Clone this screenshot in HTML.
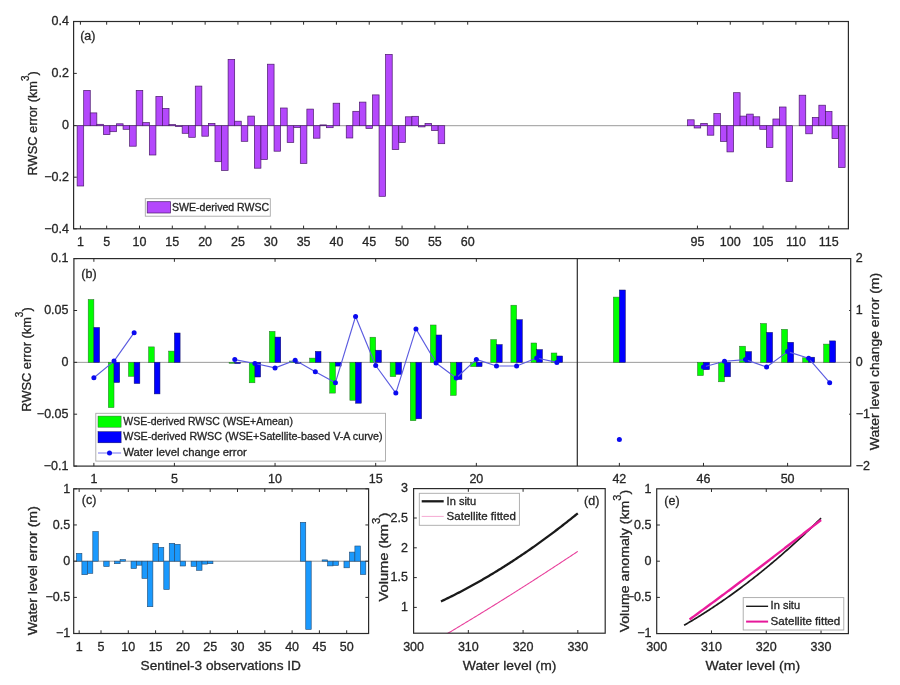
<!DOCTYPE html>
<html><head><meta charset="utf-8"><title>RWSC error figure</title>
<style>html,body{margin:0;padding:0;background:#fff;} svg{display:block;} text{font-family:'Liberation Sans', Arial, sans-serif;stroke:#262626;stroke-width:0.3px;}</style>
</head><body>
<svg width="900" height="685" viewBox="0 0 900 685">
<rect x="0" y="0" width="900" height="685" fill="#ffffff"/>
<line x1="73.60" y1="125.70" x2="848.40" y2="125.70" stroke="#9a9a9a" stroke-width="1.0" />
<rect x="77.13" y="125.70" width="6.57" height="60.30" fill="#b448fc" stroke="#4a1a6a" stroke-width="0.7"/>
<rect x="83.69" y="90.40" width="6.57" height="35.30" fill="#b448fc" stroke="#4a1a6a" stroke-width="0.7"/>
<rect x="90.26" y="112.90" width="6.57" height="12.80" fill="#b448fc" stroke="#4a1a6a" stroke-width="0.7"/>
<rect x="96.82" y="124.30" width="6.57" height="1.40" fill="#b448fc" stroke="#4a1a6a" stroke-width="0.7"/>
<rect x="103.39" y="125.70" width="6.57" height="8.90" fill="#b448fc" stroke="#4a1a6a" stroke-width="0.7"/>
<rect x="109.95" y="125.70" width="6.57" height="6.00" fill="#b448fc" stroke="#4a1a6a" stroke-width="0.7"/>
<rect x="116.52" y="123.80" width="6.57" height="1.90" fill="#b448fc" stroke="#4a1a6a" stroke-width="0.7"/>
<rect x="123.08" y="125.70" width="6.57" height="3.60" fill="#b448fc" stroke="#4a1a6a" stroke-width="0.7"/>
<rect x="129.64" y="125.70" width="6.57" height="20.50" fill="#b448fc" stroke="#4a1a6a" stroke-width="0.7"/>
<rect x="136.21" y="90.40" width="6.57" height="35.30" fill="#b448fc" stroke="#4a1a6a" stroke-width="0.7"/>
<rect x="142.77" y="122.60" width="6.57" height="3.10" fill="#b448fc" stroke="#4a1a6a" stroke-width="0.7"/>
<rect x="149.34" y="125.70" width="6.57" height="29.30" fill="#b448fc" stroke="#4a1a6a" stroke-width="0.7"/>
<rect x="155.90" y="96.40" width="6.57" height="29.30" fill="#b448fc" stroke="#4a1a6a" stroke-width="0.7"/>
<rect x="162.46" y="108.40" width="6.57" height="17.30" fill="#b448fc" stroke="#4a1a6a" stroke-width="0.7"/>
<rect x="169.03" y="124.60" width="6.57" height="1.10" fill="#b448fc" stroke="#4a1a6a" stroke-width="0.7"/>
<rect x="175.59" y="125.70" width="6.57" height="0.90" fill="#b448fc" stroke="#4a1a6a" stroke-width="0.7"/>
<rect x="182.16" y="125.70" width="6.57" height="7.60" fill="#b448fc" stroke="#4a1a6a" stroke-width="0.7"/>
<rect x="188.72" y="125.70" width="6.57" height="11.60" fill="#b448fc" stroke="#4a1a6a" stroke-width="0.7"/>
<rect x="195.28" y="86.10" width="6.57" height="39.60" fill="#b448fc" stroke="#4a1a6a" stroke-width="0.7"/>
<rect x="201.85" y="125.70" width="6.57" height="10.50" fill="#b448fc" stroke="#4a1a6a" stroke-width="0.7"/>
<rect x="208.41" y="123.40" width="6.57" height="2.30" fill="#b448fc" stroke="#4a1a6a" stroke-width="0.7"/>
<rect x="214.98" y="125.70" width="6.57" height="36.00" fill="#b448fc" stroke="#4a1a6a" stroke-width="0.7"/>
<rect x="221.54" y="125.70" width="6.57" height="44.70" fill="#b448fc" stroke="#4a1a6a" stroke-width="0.7"/>
<rect x="228.10" y="59.40" width="6.57" height="66.30" fill="#b448fc" stroke="#4a1a6a" stroke-width="0.7"/>
<rect x="234.67" y="121.20" width="6.57" height="4.50" fill="#b448fc" stroke="#4a1a6a" stroke-width="0.7"/>
<rect x="241.23" y="125.70" width="6.57" height="15.60" fill="#b448fc" stroke="#4a1a6a" stroke-width="0.7"/>
<rect x="247.80" y="116.10" width="6.57" height="9.60" fill="#b448fc" stroke="#4a1a6a" stroke-width="0.7"/>
<rect x="254.36" y="125.70" width="6.57" height="42.50" fill="#b448fc" stroke="#4a1a6a" stroke-width="0.7"/>
<rect x="260.92" y="125.70" width="6.57" height="33.80" fill="#b448fc" stroke="#4a1a6a" stroke-width="0.7"/>
<rect x="267.49" y="64.20" width="6.57" height="61.50" fill="#b448fc" stroke="#4a1a6a" stroke-width="0.7"/>
<rect x="274.05" y="125.70" width="6.57" height="25.50" fill="#b448fc" stroke="#4a1a6a" stroke-width="0.7"/>
<rect x="280.62" y="108.00" width="6.57" height="17.70" fill="#b448fc" stroke="#4a1a6a" stroke-width="0.7"/>
<rect x="287.18" y="125.70" width="6.57" height="16.70" fill="#b448fc" stroke="#4a1a6a" stroke-width="0.7"/>
<rect x="293.74" y="125.70" width="6.57" height="1.80" fill="#b448fc" stroke="#4a1a6a" stroke-width="0.7"/>
<rect x="300.31" y="125.70" width="6.57" height="37.70" fill="#b448fc" stroke="#4a1a6a" stroke-width="0.7"/>
<rect x="306.87" y="109.10" width="6.57" height="16.60" fill="#b448fc" stroke="#4a1a6a" stroke-width="0.7"/>
<rect x="313.43" y="125.70" width="6.57" height="12.50" fill="#b448fc" stroke="#4a1a6a" stroke-width="0.7"/>
<rect x="320.00" y="124.90" width="6.57" height="0.80" fill="#b448fc" stroke="#4a1a6a" stroke-width="0.7"/>
<rect x="326.56" y="125.70" width="6.57" height="2.00" fill="#b448fc" stroke="#4a1a6a" stroke-width="0.7"/>
<rect x="333.13" y="103.20" width="6.57" height="22.50" fill="#b448fc" stroke="#4a1a6a" stroke-width="0.7"/>
<rect x="346.25" y="125.70" width="6.57" height="12.30" fill="#b448fc" stroke="#4a1a6a" stroke-width="0.7"/>
<rect x="352.82" y="111.30" width="6.57" height="14.40" fill="#b448fc" stroke="#4a1a6a" stroke-width="0.7"/>
<rect x="359.38" y="102.10" width="6.57" height="23.60" fill="#b448fc" stroke="#4a1a6a" stroke-width="0.7"/>
<rect x="365.95" y="125.70" width="6.57" height="2.70" fill="#b448fc" stroke="#4a1a6a" stroke-width="0.7"/>
<rect x="372.51" y="94.90" width="6.57" height="30.80" fill="#b448fc" stroke="#4a1a6a" stroke-width="0.7"/>
<rect x="379.07" y="125.70" width="6.57" height="70.60" fill="#b448fc" stroke="#4a1a6a" stroke-width="0.7"/>
<rect x="385.64" y="54.40" width="6.57" height="71.30" fill="#b448fc" stroke="#4a1a6a" stroke-width="0.7"/>
<rect x="392.20" y="125.70" width="6.57" height="23.90" fill="#b448fc" stroke="#4a1a6a" stroke-width="0.7"/>
<rect x="398.77" y="125.70" width="6.57" height="16.80" fill="#b448fc" stroke="#4a1a6a" stroke-width="0.7"/>
<rect x="405.33" y="116.80" width="6.57" height="8.90" fill="#b448fc" stroke="#4a1a6a" stroke-width="0.7"/>
<rect x="411.89" y="116.30" width="6.57" height="9.40" fill="#b448fc" stroke="#4a1a6a" stroke-width="0.7"/>
<rect x="418.46" y="125.70" width="6.57" height="1.20" fill="#b448fc" stroke="#4a1a6a" stroke-width="0.7"/>
<rect x="425.02" y="123.40" width="6.57" height="2.30" fill="#b448fc" stroke="#4a1a6a" stroke-width="0.7"/>
<rect x="431.59" y="125.70" width="6.57" height="4.90" fill="#b448fc" stroke="#4a1a6a" stroke-width="0.7"/>
<rect x="438.15" y="125.70" width="6.57" height="18.00" fill="#b448fc" stroke="#4a1a6a" stroke-width="0.7"/>
<rect x="687.58" y="119.80" width="6.57" height="5.90" fill="#b448fc" stroke="#4a1a6a" stroke-width="0.7"/>
<rect x="694.15" y="125.70" width="6.57" height="2.30" fill="#b448fc" stroke="#4a1a6a" stroke-width="0.7"/>
<rect x="700.71" y="123.40" width="6.57" height="2.30" fill="#b448fc" stroke="#4a1a6a" stroke-width="0.7"/>
<rect x="707.27" y="125.70" width="6.57" height="9.50" fill="#b448fc" stroke="#4a1a6a" stroke-width="0.7"/>
<rect x="713.84" y="113.60" width="6.57" height="12.10" fill="#b448fc" stroke="#4a1a6a" stroke-width="0.7"/>
<rect x="720.40" y="125.70" width="6.57" height="15.70" fill="#b448fc" stroke="#4a1a6a" stroke-width="0.7"/>
<rect x="726.97" y="125.70" width="6.57" height="26.20" fill="#b448fc" stroke="#4a1a6a" stroke-width="0.7"/>
<rect x="733.53" y="92.70" width="6.57" height="33.00" fill="#b448fc" stroke="#4a1a6a" stroke-width="0.7"/>
<rect x="740.10" y="116.10" width="6.57" height="9.60" fill="#b448fc" stroke="#4a1a6a" stroke-width="0.7"/>
<rect x="746.66" y="114.10" width="6.57" height="11.60" fill="#b448fc" stroke="#4a1a6a" stroke-width="0.7"/>
<rect x="753.22" y="116.80" width="6.57" height="8.90" fill="#b448fc" stroke="#4a1a6a" stroke-width="0.7"/>
<rect x="759.79" y="125.70" width="6.57" height="3.60" fill="#b448fc" stroke="#4a1a6a" stroke-width="0.7"/>
<rect x="766.35" y="125.70" width="6.57" height="21.70" fill="#b448fc" stroke="#4a1a6a" stroke-width="0.7"/>
<rect x="772.91" y="119.00" width="6.57" height="6.70" fill="#b448fc" stroke="#4a1a6a" stroke-width="0.7"/>
<rect x="779.48" y="107.00" width="6.57" height="18.70" fill="#b448fc" stroke="#4a1a6a" stroke-width="0.7"/>
<rect x="786.04" y="125.70" width="6.57" height="55.90" fill="#b448fc" stroke="#4a1a6a" stroke-width="0.7"/>
<rect x="799.17" y="95.20" width="6.57" height="30.50" fill="#b448fc" stroke="#4a1a6a" stroke-width="0.7"/>
<rect x="805.74" y="125.70" width="6.57" height="8.10" fill="#b448fc" stroke="#4a1a6a" stroke-width="0.7"/>
<rect x="812.30" y="117.40" width="6.57" height="8.30" fill="#b448fc" stroke="#4a1a6a" stroke-width="0.7"/>
<rect x="818.86" y="105.20" width="6.57" height="20.50" fill="#b448fc" stroke="#4a1a6a" stroke-width="0.7"/>
<rect x="825.43" y="111.50" width="6.57" height="14.20" fill="#b448fc" stroke="#4a1a6a" stroke-width="0.7"/>
<rect x="831.99" y="125.70" width="6.57" height="12.90" fill="#b448fc" stroke="#4a1a6a" stroke-width="0.7"/>
<rect x="838.56" y="125.70" width="6.57" height="41.80" fill="#b448fc" stroke="#4a1a6a" stroke-width="0.7"/>
<rect x="73.60" y="21.50" width="774.80" height="207.30" fill="none" stroke="#2b2b2b" stroke-width="1.2"/>
<line x1="80.41" y1="228.80" x2="80.41" y2="225.60" stroke="#2b2b2b" stroke-width="1.0" />
<line x1="80.41" y1="21.50" x2="80.41" y2="24.70" stroke="#2b2b2b" stroke-width="1.0" />
<line x1="106.67" y1="228.80" x2="106.67" y2="225.60" stroke="#2b2b2b" stroke-width="1.0" />
<line x1="106.67" y1="21.50" x2="106.67" y2="24.70" stroke="#2b2b2b" stroke-width="1.0" />
<line x1="139.49" y1="228.80" x2="139.49" y2="225.60" stroke="#2b2b2b" stroke-width="1.0" />
<line x1="139.49" y1="21.50" x2="139.49" y2="24.70" stroke="#2b2b2b" stroke-width="1.0" />
<line x1="172.31" y1="228.80" x2="172.31" y2="225.60" stroke="#2b2b2b" stroke-width="1.0" />
<line x1="172.31" y1="21.50" x2="172.31" y2="24.70" stroke="#2b2b2b" stroke-width="1.0" />
<line x1="205.13" y1="228.80" x2="205.13" y2="225.60" stroke="#2b2b2b" stroke-width="1.0" />
<line x1="205.13" y1="21.50" x2="205.13" y2="24.70" stroke="#2b2b2b" stroke-width="1.0" />
<line x1="237.95" y1="228.80" x2="237.95" y2="225.60" stroke="#2b2b2b" stroke-width="1.0" />
<line x1="237.95" y1="21.50" x2="237.95" y2="24.70" stroke="#2b2b2b" stroke-width="1.0" />
<line x1="270.77" y1="228.80" x2="270.77" y2="225.60" stroke="#2b2b2b" stroke-width="1.0" />
<line x1="270.77" y1="21.50" x2="270.77" y2="24.70" stroke="#2b2b2b" stroke-width="1.0" />
<line x1="303.59" y1="228.80" x2="303.59" y2="225.60" stroke="#2b2b2b" stroke-width="1.0" />
<line x1="303.59" y1="21.50" x2="303.59" y2="24.70" stroke="#2b2b2b" stroke-width="1.0" />
<line x1="336.41" y1="228.80" x2="336.41" y2="225.60" stroke="#2b2b2b" stroke-width="1.0" />
<line x1="336.41" y1="21.50" x2="336.41" y2="24.70" stroke="#2b2b2b" stroke-width="1.0" />
<line x1="369.23" y1="228.80" x2="369.23" y2="225.60" stroke="#2b2b2b" stroke-width="1.0" />
<line x1="369.23" y1="21.50" x2="369.23" y2="24.70" stroke="#2b2b2b" stroke-width="1.0" />
<line x1="402.05" y1="228.80" x2="402.05" y2="225.60" stroke="#2b2b2b" stroke-width="1.0" />
<line x1="402.05" y1="21.50" x2="402.05" y2="24.70" stroke="#2b2b2b" stroke-width="1.0" />
<line x1="434.87" y1="228.80" x2="434.87" y2="225.60" stroke="#2b2b2b" stroke-width="1.0" />
<line x1="434.87" y1="21.50" x2="434.87" y2="24.70" stroke="#2b2b2b" stroke-width="1.0" />
<line x1="467.69" y1="228.80" x2="467.69" y2="225.60" stroke="#2b2b2b" stroke-width="1.0" />
<line x1="467.69" y1="21.50" x2="467.69" y2="24.70" stroke="#2b2b2b" stroke-width="1.0" />
<line x1="697.43" y1="228.80" x2="697.43" y2="225.60" stroke="#2b2b2b" stroke-width="1.0" />
<line x1="697.43" y1="21.50" x2="697.43" y2="24.70" stroke="#2b2b2b" stroke-width="1.0" />
<line x1="730.25" y1="228.80" x2="730.25" y2="225.60" stroke="#2b2b2b" stroke-width="1.0" />
<line x1="730.25" y1="21.50" x2="730.25" y2="24.70" stroke="#2b2b2b" stroke-width="1.0" />
<line x1="763.07" y1="228.80" x2="763.07" y2="225.60" stroke="#2b2b2b" stroke-width="1.0" />
<line x1="763.07" y1="21.50" x2="763.07" y2="24.70" stroke="#2b2b2b" stroke-width="1.0" />
<line x1="795.89" y1="228.80" x2="795.89" y2="225.60" stroke="#2b2b2b" stroke-width="1.0" />
<line x1="795.89" y1="21.50" x2="795.89" y2="24.70" stroke="#2b2b2b" stroke-width="1.0" />
<line x1="828.71" y1="228.80" x2="828.71" y2="225.60" stroke="#2b2b2b" stroke-width="1.0" />
<line x1="828.71" y1="21.50" x2="828.71" y2="24.70" stroke="#2b2b2b" stroke-width="1.0" />
<line x1="73.60" y1="21.50" x2="76.80" y2="21.50" stroke="#2b2b2b" stroke-width="1.0" />
<line x1="73.60" y1="73.40" x2="76.80" y2="73.40" stroke="#2b2b2b" stroke-width="1.0" />
<line x1="73.60" y1="125.60" x2="76.80" y2="125.60" stroke="#2b2b2b" stroke-width="1.0" />
<line x1="73.60" y1="177.20" x2="76.80" y2="177.20" stroke="#2b2b2b" stroke-width="1.0" />
<line x1="73.60" y1="228.80" x2="76.80" y2="228.80" stroke="#2b2b2b" stroke-width="1.0" />
<text x="68.90" y="25.20" font-size="12.5" text-anchor="end" fill="#262626" >0.4</text>
<text x="68.90" y="77.10" font-size="12.5" text-anchor="end" fill="#262626" >0.2</text>
<text x="68.90" y="129.30" font-size="12.5" text-anchor="end" fill="#262626" >0</text>
<text x="68.90" y="180.90" font-size="12.5" text-anchor="end" fill="#262626" >−0.2</text>
<text x="68.90" y="232.50" font-size="12.5" text-anchor="end" fill="#262626" >−0.4</text>
<text x="80.41" y="245.90" font-size="12.5" text-anchor="middle" fill="#262626" >1</text>
<text x="106.67" y="245.90" font-size="12.5" text-anchor="middle" fill="#262626" >5</text>
<text x="139.49" y="245.90" font-size="12.5" text-anchor="middle" fill="#262626" >10</text>
<text x="172.31" y="245.90" font-size="12.5" text-anchor="middle" fill="#262626" >15</text>
<text x="205.13" y="245.90" font-size="12.5" text-anchor="middle" fill="#262626" >20</text>
<text x="237.95" y="245.90" font-size="12.5" text-anchor="middle" fill="#262626" >25</text>
<text x="270.77" y="245.90" font-size="12.5" text-anchor="middle" fill="#262626" >30</text>
<text x="303.59" y="245.90" font-size="12.5" text-anchor="middle" fill="#262626" >35</text>
<text x="336.41" y="245.90" font-size="12.5" text-anchor="middle" fill="#262626" >40</text>
<text x="369.23" y="245.90" font-size="12.5" text-anchor="middle" fill="#262626" >45</text>
<text x="402.05" y="245.90" font-size="12.5" text-anchor="middle" fill="#262626" >50</text>
<text x="434.87" y="245.90" font-size="12.5" text-anchor="middle" fill="#262626" >55</text>
<text x="467.69" y="245.90" font-size="12.5" text-anchor="middle" fill="#262626" >60</text>
<text x="697.43" y="245.90" font-size="12.5" text-anchor="middle" fill="#262626" >95</text>
<text x="730.25" y="245.90" font-size="12.5" text-anchor="middle" fill="#262626" >100</text>
<text x="763.07" y="245.90" font-size="12.5" text-anchor="middle" fill="#262626" >105</text>
<text x="795.89" y="245.90" font-size="12.5" text-anchor="middle" fill="#262626" >110</text>
<text x="828.71" y="245.90" font-size="12.5" text-anchor="middle" fill="#262626" >115</text>
<text x="80.20" y="39.60" font-size="12.5" text-anchor="start" fill="#262626" >(a)</text>
<text transform="translate(37.40,123.30) rotate(-90)" x="0" y="0" font-size="13.5" text-anchor="middle" fill="#262626" textLength="104.3" lengthAdjust="spacingAndGlyphs">RWSC error (km<tspan font-size="10.5" dy="-8">3</tspan><tspan dy="8">)</tspan></text>
<rect x="145.30" y="198.70" width="125.00" height="17.50" fill="#ffffff" stroke="#a8a8a8" stroke-width="0.9"/>
<rect x="147.20" y="201.70" width="23.30" height="11.30" fill="#b448fc" stroke="#4a1a6a" stroke-width="0.7"/>
<text x="172.00" y="210.80" font-size="10.5" text-anchor="start" fill="#262626" textLength="97.2" lengthAdjust="spacingAndGlyphs">SWE-derived RWSC</text>
<line x1="73.90" y1="362.35" x2="850.70" y2="362.35" stroke="#9a9a9a" stroke-width="1.0" />
<rect x="88.18" y="299.50" width="5.70" height="62.85" fill="#00ff00" stroke="#2f6a2f" stroke-width="0.5"/>
<rect x="93.88" y="327.50" width="5.70" height="34.85" fill="#0000ff" stroke="#10105a" stroke-width="0.5"/>
<rect x="108.31" y="362.35" width="5.70" height="45.25" fill="#00ff00" stroke="#2f6a2f" stroke-width="0.5"/>
<rect x="114.01" y="362.35" width="5.70" height="20.15" fill="#0000ff" stroke="#10105a" stroke-width="0.5"/>
<rect x="128.44" y="362.35" width="5.70" height="13.95" fill="#00ff00" stroke="#2f6a2f" stroke-width="0.5"/>
<rect x="134.14" y="362.35" width="5.70" height="21.15" fill="#0000ff" stroke="#10105a" stroke-width="0.5"/>
<rect x="148.57" y="346.90" width="5.70" height="15.45" fill="#00ff00" stroke="#2f6a2f" stroke-width="0.5"/>
<rect x="154.27" y="362.35" width="5.70" height="31.55" fill="#0000ff" stroke="#10105a" stroke-width="0.5"/>
<rect x="168.70" y="351.10" width="5.70" height="11.25" fill="#00ff00" stroke="#2f6a2f" stroke-width="0.5"/>
<rect x="174.40" y="333.00" width="5.70" height="29.35" fill="#0000ff" stroke="#10105a" stroke-width="0.5"/>
<rect x="229.09" y="362.35" width="5.70" height="0.95" fill="#00ff00" stroke="#2f6a2f" stroke-width="0.5"/>
<rect x="234.79" y="362.35" width="5.70" height="1.25" fill="#0000ff" stroke="#10105a" stroke-width="0.5"/>
<rect x="249.22" y="362.35" width="5.70" height="20.45" fill="#00ff00" stroke="#2f6a2f" stroke-width="0.5"/>
<rect x="254.92" y="362.35" width="5.70" height="14.65" fill="#0000ff" stroke="#10105a" stroke-width="0.5"/>
<rect x="269.35" y="331.40" width="5.70" height="30.95" fill="#00ff00" stroke="#2f6a2f" stroke-width="0.5"/>
<rect x="275.05" y="337.10" width="5.70" height="25.25" fill="#0000ff" stroke="#10105a" stroke-width="0.5"/>
<rect x="289.48" y="361.00" width="5.70" height="1.35" fill="#00ff00" stroke="#2f6a2f" stroke-width="0.5"/>
<rect x="295.18" y="362.35" width="5.70" height="1.15" fill="#0000ff" stroke="#10105a" stroke-width="0.5"/>
<rect x="309.61" y="358.10" width="5.70" height="4.25" fill="#00ff00" stroke="#2f6a2f" stroke-width="0.5"/>
<rect x="315.31" y="351.40" width="5.70" height="10.95" fill="#0000ff" stroke="#10105a" stroke-width="0.5"/>
<rect x="329.74" y="362.35" width="5.70" height="30.75" fill="#00ff00" stroke="#2f6a2f" stroke-width="0.5"/>
<rect x="335.44" y="362.35" width="5.70" height="3.75" fill="#0000ff" stroke="#10105a" stroke-width="0.5"/>
<rect x="349.87" y="362.35" width="5.70" height="37.95" fill="#00ff00" stroke="#2f6a2f" stroke-width="0.5"/>
<rect x="355.57" y="362.35" width="5.70" height="40.85" fill="#0000ff" stroke="#10105a" stroke-width="0.5"/>
<rect x="370.00" y="337.20" width="5.70" height="25.15" fill="#00ff00" stroke="#2f6a2f" stroke-width="0.5"/>
<rect x="375.70" y="350.20" width="5.70" height="12.15" fill="#0000ff" stroke="#10105a" stroke-width="0.5"/>
<rect x="390.13" y="362.35" width="5.70" height="14.25" fill="#00ff00" stroke="#2f6a2f" stroke-width="0.5"/>
<rect x="395.83" y="362.35" width="5.70" height="11.95" fill="#0000ff" stroke="#10105a" stroke-width="0.5"/>
<rect x="410.26" y="362.35" width="5.70" height="58.35" fill="#00ff00" stroke="#2f6a2f" stroke-width="0.5"/>
<rect x="415.96" y="362.35" width="5.70" height="56.45" fill="#0000ff" stroke="#10105a" stroke-width="0.5"/>
<rect x="430.39" y="325.00" width="5.70" height="37.35" fill="#00ff00" stroke="#2f6a2f" stroke-width="0.5"/>
<rect x="436.09" y="335.00" width="5.70" height="27.35" fill="#0000ff" stroke="#10105a" stroke-width="0.5"/>
<rect x="450.52" y="362.35" width="5.70" height="33.05" fill="#00ff00" stroke="#2f6a2f" stroke-width="0.5"/>
<rect x="456.22" y="362.35" width="5.70" height="17.05" fill="#0000ff" stroke="#10105a" stroke-width="0.5"/>
<rect x="470.65" y="362.35" width="5.70" height="4.25" fill="#00ff00" stroke="#2f6a2f" stroke-width="0.5"/>
<rect x="476.35" y="362.35" width="5.70" height="4.25" fill="#0000ff" stroke="#10105a" stroke-width="0.5"/>
<rect x="490.78" y="339.60" width="5.70" height="22.75" fill="#00ff00" stroke="#2f6a2f" stroke-width="0.5"/>
<rect x="496.48" y="344.60" width="5.70" height="17.75" fill="#0000ff" stroke="#10105a" stroke-width="0.5"/>
<rect x="510.91" y="305.20" width="5.70" height="57.15" fill="#00ff00" stroke="#2f6a2f" stroke-width="0.5"/>
<rect x="516.61" y="319.70" width="5.70" height="42.65" fill="#0000ff" stroke="#10105a" stroke-width="0.5"/>
<rect x="531.04" y="343.00" width="5.70" height="19.35" fill="#00ff00" stroke="#2f6a2f" stroke-width="0.5"/>
<rect x="536.74" y="349.60" width="5.70" height="12.75" fill="#0000ff" stroke="#10105a" stroke-width="0.5"/>
<rect x="551.17" y="353.00" width="5.70" height="9.35" fill="#00ff00" stroke="#2f6a2f" stroke-width="0.5"/>
<rect x="556.87" y="356.00" width="5.70" height="6.35" fill="#0000ff" stroke="#10105a" stroke-width="0.5"/>
<rect x="613.36" y="297.10" width="6.00" height="65.25" fill="#00ff00" stroke="#2f6a2f" stroke-width="0.5"/>
<rect x="619.36" y="290.00" width="6.00" height="72.35" fill="#0000ff" stroke="#10105a" stroke-width="0.5"/>
<rect x="697.48" y="362.35" width="6.00" height="13.25" fill="#00ff00" stroke="#2f6a2f" stroke-width="0.5"/>
<rect x="703.48" y="362.35" width="6.00" height="7.35" fill="#0000ff" stroke="#10105a" stroke-width="0.5"/>
<rect x="718.51" y="362.35" width="6.00" height="19.45" fill="#00ff00" stroke="#2f6a2f" stroke-width="0.5"/>
<rect x="724.51" y="362.35" width="6.00" height="14.45" fill="#0000ff" stroke="#10105a" stroke-width="0.5"/>
<rect x="739.54" y="346.20" width="6.00" height="16.15" fill="#00ff00" stroke="#2f6a2f" stroke-width="0.5"/>
<rect x="745.54" y="351.60" width="6.00" height="10.75" fill="#0000ff" stroke="#10105a" stroke-width="0.5"/>
<rect x="760.57" y="323.50" width="6.00" height="38.85" fill="#00ff00" stroke="#2f6a2f" stroke-width="0.5"/>
<rect x="766.57" y="332.40" width="6.00" height="29.95" fill="#0000ff" stroke="#10105a" stroke-width="0.5"/>
<rect x="781.60" y="329.30" width="6.00" height="33.05" fill="#00ff00" stroke="#2f6a2f" stroke-width="0.5"/>
<rect x="787.60" y="342.30" width="6.00" height="20.05" fill="#0000ff" stroke="#10105a" stroke-width="0.5"/>
<rect x="802.63" y="357.80" width="6.00" height="4.55" fill="#00ff00" stroke="#2f6a2f" stroke-width="0.5"/>
<rect x="808.63" y="357.20" width="6.00" height="5.15" fill="#0000ff" stroke="#10105a" stroke-width="0.5"/>
<rect x="823.66" y="344.10" width="6.00" height="18.25" fill="#00ff00" stroke="#2f6a2f" stroke-width="0.5"/>
<rect x="829.66" y="340.90" width="6.00" height="21.45" fill="#0000ff" stroke="#10105a" stroke-width="0.5"/>
<polyline points="93.88,377.80 114.01,361.10 134.14,332.70" fill="none" stroke="#5c5ce0" stroke-width="1.15" stroke-linejoin="round" />
<polyline points="234.79,359.60 254.92,363.50 275.05,367.90 295.18,360.20 315.31,371.70 335.44,382.70 355.57,316.50 375.70,365.50 395.83,393.10 415.96,328.90 436.09,363.00 456.22,378.00 476.35,359.40 496.48,366.00 516.61,366.00 536.74,358.00 556.87,362.40" fill="none" stroke="#5c5ce0" stroke-width="1.15" stroke-linejoin="round" />
<polyline points="703.48,367.00 724.51,361.30 745.54,359.60 766.57,367.00 787.60,351.60 808.63,358.30 829.66,382.70" fill="none" stroke="#5c5ce0" stroke-width="1.15" stroke-linejoin="round" />
<circle cx="93.88" cy="377.80" r="2.5" fill="#0a0af0"/>
<circle cx="114.01" cy="361.10" r="2.5" fill="#0a0af0"/>
<circle cx="134.14" cy="332.70" r="2.5" fill="#0a0af0"/>
<circle cx="234.79" cy="359.60" r="2.5" fill="#0a0af0"/>
<circle cx="254.92" cy="363.50" r="2.5" fill="#0a0af0"/>
<circle cx="275.05" cy="367.90" r="2.5" fill="#0a0af0"/>
<circle cx="295.18" cy="360.20" r="2.5" fill="#0a0af0"/>
<circle cx="315.31" cy="371.70" r="2.5" fill="#0a0af0"/>
<circle cx="335.44" cy="382.70" r="2.5" fill="#0a0af0"/>
<circle cx="355.57" cy="316.50" r="2.5" fill="#0a0af0"/>
<circle cx="375.70" cy="365.50" r="2.5" fill="#0a0af0"/>
<circle cx="395.83" cy="393.10" r="2.5" fill="#0a0af0"/>
<circle cx="415.96" cy="328.90" r="2.5" fill="#0a0af0"/>
<circle cx="436.09" cy="363.00" r="2.5" fill="#0a0af0"/>
<circle cx="456.22" cy="378.00" r="2.5" fill="#0a0af0"/>
<circle cx="476.35" cy="359.40" r="2.5" fill="#0a0af0"/>
<circle cx="496.48" cy="366.00" r="2.5" fill="#0a0af0"/>
<circle cx="516.61" cy="366.00" r="2.5" fill="#0a0af0"/>
<circle cx="536.74" cy="358.00" r="2.5" fill="#0a0af0"/>
<circle cx="556.87" cy="362.40" r="2.5" fill="#0a0af0"/>
<circle cx="703.48" cy="367.00" r="2.5" fill="#0a0af0"/>
<circle cx="724.51" cy="361.30" r="2.5" fill="#0a0af0"/>
<circle cx="745.54" cy="359.60" r="2.5" fill="#0a0af0"/>
<circle cx="766.57" cy="367.00" r="2.5" fill="#0a0af0"/>
<circle cx="787.60" cy="351.60" r="2.5" fill="#0a0af0"/>
<circle cx="808.63" cy="358.30" r="2.5" fill="#0a0af0"/>
<circle cx="829.66" cy="382.70" r="2.5" fill="#0a0af0"/>
<circle cx="619.36" cy="439.40" r="2.5" fill="#0a0af0"/>
<rect x="73.90" y="258.60" width="776.80" height="207.50" fill="none" stroke="#2b2b2b" stroke-width="1.2"/>
<line x1="577.30" y1="258.60" x2="577.30" y2="466.10" stroke="#2b2b2b" stroke-width="1.2" />
<line x1="93.88" y1="466.10" x2="93.88" y2="462.90" stroke="#2b2b2b" stroke-width="1.0" />
<line x1="93.88" y1="258.60" x2="93.88" y2="261.80" stroke="#2b2b2b" stroke-width="1.0" />
<line x1="174.40" y1="466.10" x2="174.40" y2="462.90" stroke="#2b2b2b" stroke-width="1.0" />
<line x1="174.40" y1="258.60" x2="174.40" y2="261.80" stroke="#2b2b2b" stroke-width="1.0" />
<line x1="275.05" y1="466.10" x2="275.05" y2="462.90" stroke="#2b2b2b" stroke-width="1.0" />
<line x1="275.05" y1="258.60" x2="275.05" y2="261.80" stroke="#2b2b2b" stroke-width="1.0" />
<line x1="375.70" y1="466.10" x2="375.70" y2="462.90" stroke="#2b2b2b" stroke-width="1.0" />
<line x1="375.70" y1="258.60" x2="375.70" y2="261.80" stroke="#2b2b2b" stroke-width="1.0" />
<line x1="476.35" y1="466.10" x2="476.35" y2="462.90" stroke="#2b2b2b" stroke-width="1.0" />
<line x1="476.35" y1="258.60" x2="476.35" y2="261.80" stroke="#2b2b2b" stroke-width="1.0" />
<line x1="619.36" y1="466.10" x2="619.36" y2="462.90" stroke="#2b2b2b" stroke-width="1.0" />
<line x1="619.36" y1="258.60" x2="619.36" y2="261.80" stroke="#2b2b2b" stroke-width="1.0" />
<line x1="703.48" y1="466.10" x2="703.48" y2="462.90" stroke="#2b2b2b" stroke-width="1.0" />
<line x1="703.48" y1="258.60" x2="703.48" y2="261.80" stroke="#2b2b2b" stroke-width="1.0" />
<line x1="787.60" y1="466.10" x2="787.60" y2="462.90" stroke="#2b2b2b" stroke-width="1.0" />
<line x1="787.60" y1="258.60" x2="787.60" y2="261.80" stroke="#2b2b2b" stroke-width="1.0" />
<line x1="73.90" y1="258.60" x2="77.10" y2="258.60" stroke="#2b2b2b" stroke-width="1.0" />
<line x1="73.90" y1="310.50" x2="77.10" y2="310.50" stroke="#2b2b2b" stroke-width="1.0" />
<line x1="73.90" y1="362.35" x2="77.10" y2="362.35" stroke="#2b2b2b" stroke-width="1.0" />
<line x1="73.90" y1="414.20" x2="77.10" y2="414.20" stroke="#2b2b2b" stroke-width="1.0" />
<line x1="73.90" y1="466.10" x2="77.10" y2="466.10" stroke="#2b2b2b" stroke-width="1.0" />
<line x1="850.70" y1="310.50" x2="849.10" y2="310.50" stroke="#2b2b2b" stroke-width="1.0" />
<line x1="850.70" y1="362.35" x2="849.10" y2="362.35" stroke="#2b2b2b" stroke-width="1.0" />
<line x1="850.70" y1="414.20" x2="849.10" y2="414.20" stroke="#2b2b2b" stroke-width="1.0" />
<text x="68.50" y="262.30" font-size="12.5" text-anchor="end" fill="#262626" >0.1</text>
<text x="68.50" y="314.20" font-size="12.5" text-anchor="end" fill="#262626" >0.05</text>
<text x="68.50" y="366.05" font-size="12.5" text-anchor="end" fill="#262626" >0</text>
<text x="68.50" y="417.90" font-size="12.5" text-anchor="end" fill="#262626" >−0.05</text>
<text x="68.50" y="469.80" font-size="12.5" text-anchor="end" fill="#262626" >−0.1</text>
<text x="855.80" y="262.30" font-size="12.5" text-anchor="start" fill="#262626" >2</text>
<text x="855.80" y="314.20" font-size="12.5" text-anchor="start" fill="#262626" >1</text>
<text x="855.80" y="366.05" font-size="12.5" text-anchor="start" fill="#262626" >0</text>
<text x="855.80" y="417.90" font-size="12.5" text-anchor="start" fill="#262626" >−1</text>
<text x="855.80" y="469.80" font-size="12.5" text-anchor="start" fill="#262626" >−2</text>
<text x="93.88" y="482.70" font-size="12.5" text-anchor="middle" fill="#262626" >1</text>
<text x="174.40" y="482.70" font-size="12.5" text-anchor="middle" fill="#262626" >5</text>
<text x="275.05" y="482.70" font-size="12.5" text-anchor="middle" fill="#262626" >10</text>
<text x="375.70" y="482.70" font-size="12.5" text-anchor="middle" fill="#262626" >15</text>
<text x="476.35" y="482.70" font-size="12.5" text-anchor="middle" fill="#262626" >20</text>
<text x="619.36" y="482.70" font-size="12.5" text-anchor="middle" fill="#262626" >42</text>
<text x="703.48" y="482.70" font-size="12.5" text-anchor="middle" fill="#262626" >46</text>
<text x="787.60" y="482.70" font-size="12.5" text-anchor="middle" fill="#262626" >50</text>
<text x="81.30" y="277.60" font-size="12.5" text-anchor="start" fill="#262626" >(b)</text>
<text transform="translate(30.50,359.50) rotate(-90)" x="0" y="0" font-size="13.5" text-anchor="middle" fill="#262626" textLength="104.3" lengthAdjust="spacingAndGlyphs">RWSC error (km<tspan font-size="10.5" dy="-8">3</tspan><tspan dy="8">)</tspan></text>
<text transform="translate(879.30,361.50) rotate(-90)" x="0" y="0" font-size="13.5" text-anchor="middle" fill="#262626" textLength="177.3" lengthAdjust="spacingAndGlyphs">Water level change error (m)</text>
<rect x="95.80" y="413.30" width="289.70" height="47.80" fill="#ffffff" stroke="#a8a8a8" stroke-width="0.9"/>
<rect x="98.00" y="416.10" width="23.10" height="11.10" fill="#00ff00" stroke="#2f6a2f" stroke-width="0.5"/>
<rect x="98.00" y="431.70" width="23.10" height="11.10" fill="#0000ff" stroke="#10105a" stroke-width="0.5"/>
<line x1="98.00" y1="453.00" x2="121.10" y2="453.00" stroke="#8c8cf0" stroke-width="1.2" />
<circle cx="109.5" cy="453" r="2.5" fill="#0a0af0"/>
<text x="123.30" y="424.80" font-size="10.5" text-anchor="start" fill="#262626" textLength="169.6" lengthAdjust="spacingAndGlyphs">WSE-derived RWSC (WSE+Amean)</text>
<text x="123.30" y="440.30" font-size="10.5" text-anchor="start" fill="#262626" textLength="259.3" lengthAdjust="spacingAndGlyphs">WSE-derived RWSC (WSE+Satellite-based V-A curve)</text>
<text x="123.30" y="456.30" font-size="10.5" text-anchor="start" fill="#262626" textLength="123.4" lengthAdjust="spacingAndGlyphs">Water level change error</text>
<line x1="73.70" y1="561.20" x2="368.60" y2="561.20" stroke="#9a9a9a" stroke-width="1.0" />
<rect x="76.43" y="553.40" width="5.46" height="7.80" fill="#1a99fd" stroke="#244a70" stroke-width="0.6"/>
<rect x="81.89" y="561.20" width="5.46" height="13.50" fill="#1a99fd" stroke="#244a70" stroke-width="0.6"/>
<rect x="87.35" y="561.20" width="5.46" height="12.10" fill="#1a99fd" stroke="#244a70" stroke-width="0.6"/>
<rect x="92.81" y="531.60" width="5.46" height="29.60" fill="#1a99fd" stroke="#244a70" stroke-width="0.6"/>
<rect x="103.73" y="561.20" width="5.46" height="5.30" fill="#1a99fd" stroke="#244a70" stroke-width="0.6"/>
<rect x="114.65" y="561.20" width="5.46" height="2.50" fill="#1a99fd" stroke="#244a70" stroke-width="0.6"/>
<rect x="120.11" y="559.60" width="5.46" height="1.60" fill="#1a99fd" stroke="#244a70" stroke-width="0.6"/>
<rect x="131.03" y="561.20" width="5.46" height="7.30" fill="#1a99fd" stroke="#244a70" stroke-width="0.6"/>
<rect x="136.49" y="561.20" width="5.46" height="4.00" fill="#1a99fd" stroke="#244a70" stroke-width="0.6"/>
<rect x="141.95" y="561.20" width="5.46" height="17.20" fill="#1a99fd" stroke="#244a70" stroke-width="0.6"/>
<rect x="147.41" y="561.20" width="5.46" height="45.50" fill="#1a99fd" stroke="#244a70" stroke-width="0.6"/>
<rect x="152.87" y="543.30" width="5.46" height="17.90" fill="#1a99fd" stroke="#244a70" stroke-width="0.6"/>
<rect x="158.33" y="547.40" width="5.46" height="13.80" fill="#1a99fd" stroke="#244a70" stroke-width="0.6"/>
<rect x="163.79" y="561.20" width="5.46" height="28.30" fill="#1a99fd" stroke="#244a70" stroke-width="0.6"/>
<rect x="169.25" y="543.30" width="5.46" height="17.90" fill="#1a99fd" stroke="#244a70" stroke-width="0.6"/>
<rect x="174.71" y="544.30" width="5.46" height="16.90" fill="#1a99fd" stroke="#244a70" stroke-width="0.6"/>
<rect x="180.17" y="561.20" width="5.46" height="4.80" fill="#1a99fd" stroke="#244a70" stroke-width="0.6"/>
<rect x="191.09" y="561.20" width="5.46" height="5.10" fill="#1a99fd" stroke="#244a70" stroke-width="0.6"/>
<rect x="196.55" y="561.20" width="5.46" height="9.10" fill="#1a99fd" stroke="#244a70" stroke-width="0.6"/>
<rect x="202.01" y="561.20" width="5.46" height="2.90" fill="#1a99fd" stroke="#244a70" stroke-width="0.6"/>
<rect x="207.47" y="561.20" width="5.46" height="2.50" fill="#1a99fd" stroke="#244a70" stroke-width="0.6"/>
<rect x="300.29" y="522.30" width="5.46" height="38.90" fill="#1a99fd" stroke="#244a70" stroke-width="0.6"/>
<rect x="305.75" y="561.20" width="5.46" height="68.20" fill="#1a99fd" stroke="#244a70" stroke-width="0.6"/>
<rect x="322.13" y="559.90" width="5.46" height="1.30" fill="#1a99fd" stroke="#244a70" stroke-width="0.6"/>
<rect x="327.59" y="561.20" width="5.46" height="4.70" fill="#1a99fd" stroke="#244a70" stroke-width="0.6"/>
<rect x="333.05" y="561.20" width="5.46" height="4.20" fill="#1a99fd" stroke="#244a70" stroke-width="0.6"/>
<rect x="343.97" y="561.20" width="5.46" height="6.60" fill="#1a99fd" stroke="#244a70" stroke-width="0.6"/>
<rect x="349.43" y="552.10" width="5.46" height="9.10" fill="#1a99fd" stroke="#244a70" stroke-width="0.6"/>
<rect x="354.89" y="546.00" width="5.46" height="15.20" fill="#1a99fd" stroke="#244a70" stroke-width="0.6"/>
<rect x="360.35" y="561.20" width="5.46" height="13.30" fill="#1a99fd" stroke="#244a70" stroke-width="0.6"/>
<rect x="73.70" y="488.80" width="294.90" height="144.70" fill="none" stroke="#2b2b2b" stroke-width="1.2"/>
<line x1="79.16" y1="633.50" x2="79.16" y2="630.30" stroke="#2b2b2b" stroke-width="1.0" />
<line x1="79.16" y1="488.80" x2="79.16" y2="492.00" stroke="#2b2b2b" stroke-width="1.0" />
<line x1="101.00" y1="633.50" x2="101.00" y2="630.30" stroke="#2b2b2b" stroke-width="1.0" />
<line x1="101.00" y1="488.80" x2="101.00" y2="492.00" stroke="#2b2b2b" stroke-width="1.0" />
<line x1="128.30" y1="633.50" x2="128.30" y2="630.30" stroke="#2b2b2b" stroke-width="1.0" />
<line x1="128.30" y1="488.80" x2="128.30" y2="492.00" stroke="#2b2b2b" stroke-width="1.0" />
<line x1="155.60" y1="633.50" x2="155.60" y2="630.30" stroke="#2b2b2b" stroke-width="1.0" />
<line x1="155.60" y1="488.80" x2="155.60" y2="492.00" stroke="#2b2b2b" stroke-width="1.0" />
<line x1="182.90" y1="633.50" x2="182.90" y2="630.30" stroke="#2b2b2b" stroke-width="1.0" />
<line x1="182.90" y1="488.80" x2="182.90" y2="492.00" stroke="#2b2b2b" stroke-width="1.0" />
<line x1="210.20" y1="633.50" x2="210.20" y2="630.30" stroke="#2b2b2b" stroke-width="1.0" />
<line x1="210.20" y1="488.80" x2="210.20" y2="492.00" stroke="#2b2b2b" stroke-width="1.0" />
<line x1="237.50" y1="633.50" x2="237.50" y2="630.30" stroke="#2b2b2b" stroke-width="1.0" />
<line x1="237.50" y1="488.80" x2="237.50" y2="492.00" stroke="#2b2b2b" stroke-width="1.0" />
<line x1="264.80" y1="633.50" x2="264.80" y2="630.30" stroke="#2b2b2b" stroke-width="1.0" />
<line x1="264.80" y1="488.80" x2="264.80" y2="492.00" stroke="#2b2b2b" stroke-width="1.0" />
<line x1="292.10" y1="633.50" x2="292.10" y2="630.30" stroke="#2b2b2b" stroke-width="1.0" />
<line x1="292.10" y1="488.80" x2="292.10" y2="492.00" stroke="#2b2b2b" stroke-width="1.0" />
<line x1="319.40" y1="633.50" x2="319.40" y2="630.30" stroke="#2b2b2b" stroke-width="1.0" />
<line x1="319.40" y1="488.80" x2="319.40" y2="492.00" stroke="#2b2b2b" stroke-width="1.0" />
<line x1="346.70" y1="633.50" x2="346.70" y2="630.30" stroke="#2b2b2b" stroke-width="1.0" />
<line x1="346.70" y1="488.80" x2="346.70" y2="492.00" stroke="#2b2b2b" stroke-width="1.0" />
<line x1="73.70" y1="488.80" x2="76.90" y2="488.80" stroke="#2b2b2b" stroke-width="1.0" />
<line x1="368.60" y1="488.80" x2="365.40" y2="488.80" stroke="#2b2b2b" stroke-width="1.0" />
<line x1="73.70" y1="524.95" x2="76.90" y2="524.95" stroke="#2b2b2b" stroke-width="1.0" />
<line x1="368.60" y1="524.95" x2="365.40" y2="524.95" stroke="#2b2b2b" stroke-width="1.0" />
<line x1="73.70" y1="561.20" x2="76.90" y2="561.20" stroke="#2b2b2b" stroke-width="1.0" />
<line x1="368.60" y1="561.20" x2="365.40" y2="561.20" stroke="#2b2b2b" stroke-width="1.0" />
<line x1="73.70" y1="597.40" x2="76.90" y2="597.40" stroke="#2b2b2b" stroke-width="1.0" />
<line x1="368.60" y1="597.40" x2="365.40" y2="597.40" stroke="#2b2b2b" stroke-width="1.0" />
<line x1="73.70" y1="633.50" x2="76.90" y2="633.50" stroke="#2b2b2b" stroke-width="1.0" />
<line x1="368.60" y1="633.50" x2="365.40" y2="633.50" stroke="#2b2b2b" stroke-width="1.0" />
<text x="70.20" y="492.50" font-size="12.5" text-anchor="end" fill="#262626" >1</text>
<text x="70.20" y="528.65" font-size="12.5" text-anchor="end" fill="#262626" >0.5</text>
<text x="70.20" y="564.90" font-size="12.5" text-anchor="end" fill="#262626" >0</text>
<text x="70.20" y="601.10" font-size="12.5" text-anchor="end" fill="#262626" >−0.5</text>
<text x="70.20" y="637.20" font-size="12.5" text-anchor="end" fill="#262626" >−1</text>
<text x="79.16" y="650.80" font-size="12.5" text-anchor="middle" fill="#262626" >1</text>
<text x="101.00" y="650.80" font-size="12.5" text-anchor="middle" fill="#262626" >5</text>
<text x="128.30" y="650.80" font-size="12.5" text-anchor="middle" fill="#262626" >10</text>
<text x="155.60" y="650.80" font-size="12.5" text-anchor="middle" fill="#262626" >15</text>
<text x="182.90" y="650.80" font-size="12.5" text-anchor="middle" fill="#262626" >20</text>
<text x="210.20" y="650.80" font-size="12.5" text-anchor="middle" fill="#262626" >25</text>
<text x="237.50" y="650.80" font-size="12.5" text-anchor="middle" fill="#262626" >30</text>
<text x="264.80" y="650.80" font-size="12.5" text-anchor="middle" fill="#262626" >35</text>
<text x="292.10" y="650.80" font-size="12.5" text-anchor="middle" fill="#262626" >40</text>
<text x="319.40" y="650.80" font-size="12.5" text-anchor="middle" fill="#262626" >45</text>
<text x="346.70" y="650.80" font-size="12.5" text-anchor="middle" fill="#262626" >50</text>
<text x="81.80" y="504.20" font-size="12.5" text-anchor="start" fill="#262626" >(c)</text>
<text transform="translate(36.50,570.70) rotate(-90)" x="0" y="0" font-size="13.5" text-anchor="middle" fill="#262626" textLength="129.1" lengthAdjust="spacingAndGlyphs">Water level error (m)</text>
<text x="220.80" y="669.80" font-size="13.5" text-anchor="middle" fill="#262626" textLength="160.4" lengthAdjust="spacingAndGlyphs">Sentinel-3 observations ID</text>
<clipPath id="cd"><rect x="413.6" y="488.6" width="191.60000000000002" height="144.60000000000002"/></clipPath>
<polyline points="440.97,601.44 442.34,600.79 443.71,600.13 445.08,599.47 446.44,598.81 447.81,598.14 449.18,597.47 450.55,596.79 451.92,596.11 453.29,595.42 454.66,594.72 456.02,594.03 457.39,593.33 458.76,592.62 460.13,591.91 461.50,591.19 462.87,590.47 464.23,589.75 465.60,589.02 466.97,588.28 468.34,587.54 469.71,586.80 471.08,586.05 472.45,585.30 473.81,584.54 475.18,583.78 476.55,583.01 477.92,582.24 479.29,581.46 480.66,580.68 482.03,579.89 483.39,579.10 484.76,578.31 486.13,577.51 487.50,576.70 488.87,575.89 490.24,575.08 491.60,574.26 492.97,573.44 494.34,572.61 495.71,571.78 497.08,570.94 498.45,570.10 499.82,569.25 501.18,568.40 502.55,567.54 503.92,566.68 505.29,565.82 506.66,564.95 508.03,564.07 509.40,563.19 510.76,562.31 512.13,561.42 513.50,560.53 514.87,559.63 516.24,558.73 517.61,557.82 518.97,556.91 520.34,555.99 521.71,555.07 523.08,554.14 524.45,553.21 525.82,552.28 527.19,551.34 528.55,550.39 529.92,549.44 531.29,548.49 532.66,547.53 534.03,546.57 535.40,545.60 536.76,544.63 538.13,543.65 539.50,542.67 540.87,541.68 542.24,540.69 543.61,539.69 544.98,538.69 546.34,537.68 547.71,536.67 549.08,535.66 550.45,534.64 551.82,533.62 553.19,532.59 554.56,531.55 555.92,530.52 557.29,529.47 558.66,528.43 560.03,527.37 561.40,526.32 562.77,525.25 564.13,524.19 565.50,523.12 566.87,522.04 568.24,520.96 569.61,519.88 570.98,518.79 572.35,517.69 573.71,516.59 575.08,515.49 576.45,514.38 577.82,513.27" fill="none" stroke="#1a1a1a" stroke-width="2.3" stroke-linejoin="round" stroke-linecap="butt"/>
<polyline points="440.00,637.97 441.38,637.16 442.76,636.34 444.13,635.52 445.51,634.71 446.89,633.89 448.27,633.07 449.65,632.25 451.02,631.43 452.40,630.60 453.78,629.78 455.16,628.95 456.54,628.13 457.91,627.30 459.29,626.47 460.67,625.64 462.05,624.81 463.43,623.98 464.80,623.15 466.18,622.32 467.56,621.48 468.94,620.65 470.32,619.81 471.69,618.97 473.07,618.14 474.45,617.30 475.83,616.46 477.21,615.61 478.58,614.77 479.96,613.93 481.34,613.08 482.72,612.24 484.10,611.39 485.47,610.54 486.85,609.69 488.23,608.84 489.61,607.99 490.99,607.14 492.36,606.29 493.74,605.43 495.12,604.58 496.50,603.72 497.88,602.86 499.25,602.01 500.63,601.15 502.01,600.29 503.39,599.42 504.77,598.56 506.14,597.70 507.52,596.83 508.90,595.97 510.28,595.10 511.66,594.23 513.03,593.36 514.41,592.49 515.79,591.62 517.17,590.75 518.55,589.88 519.92,589.00 521.30,588.13 522.68,587.25 524.06,586.38 525.44,585.50 526.81,584.62 528.19,583.74 529.57,582.86 530.95,581.97 532.33,581.09 533.70,580.20 535.08,579.32 536.46,578.43 537.84,577.54 539.22,576.66 540.59,575.77 541.97,574.87 543.35,573.98 544.73,573.09 546.11,572.20 547.48,571.30 548.86,570.40 550.24,569.51 551.62,568.61 553.00,567.71 554.37,566.81 555.75,565.91 557.13,565.01 558.51,564.10 559.89,563.20 561.26,562.29 562.64,561.39 564.02,560.48 565.40,559.57 566.78,558.66 568.15,557.75 569.53,556.84 570.91,555.92 572.29,555.01 573.67,554.09 575.04,553.18 576.42,552.26 577.80,551.34" fill="none" stroke="#e8409c" stroke-width="1.1" stroke-linejoin="round" clip-path="url(#cd)"/>
<rect x="413.60" y="488.60" width="191.60" height="144.60" fill="none" stroke="#2b2b2b" stroke-width="1.2"/>
<line x1="468.34" y1="633.20" x2="468.34" y2="630.00" stroke="#2b2b2b" stroke-width="1.0" />
<line x1="468.34" y1="488.60" x2="468.34" y2="491.80" stroke="#2b2b2b" stroke-width="1.0" />
<line x1="523.08" y1="633.20" x2="523.08" y2="630.00" stroke="#2b2b2b" stroke-width="1.0" />
<line x1="523.08" y1="488.60" x2="523.08" y2="491.80" stroke="#2b2b2b" stroke-width="1.0" />
<line x1="577.82" y1="633.20" x2="577.82" y2="630.00" stroke="#2b2b2b" stroke-width="1.0" />
<line x1="577.82" y1="488.60" x2="577.82" y2="491.80" stroke="#2b2b2b" stroke-width="1.0" />
<line x1="413.60" y1="607.40" x2="416.80" y2="607.40" stroke="#2b2b2b" stroke-width="1.0" />
<line x1="413.60" y1="577.60" x2="416.80" y2="577.60" stroke="#2b2b2b" stroke-width="1.0" />
<line x1="413.60" y1="547.80" x2="416.80" y2="547.80" stroke="#2b2b2b" stroke-width="1.0" />
<line x1="413.60" y1="518.00" x2="416.80" y2="518.00" stroke="#2b2b2b" stroke-width="1.0" />
<text x="407.90" y="611.10" font-size="12.5" text-anchor="end" fill="#262626" >1</text>
<text x="407.90" y="581.30" font-size="12.5" text-anchor="end" fill="#262626" >1.5</text>
<text x="407.90" y="551.50" font-size="12.5" text-anchor="end" fill="#262626" >2</text>
<text x="407.90" y="521.70" font-size="12.5" text-anchor="end" fill="#262626" >2.5</text>
<text x="407.90" y="491.90" font-size="12.5" text-anchor="end" fill="#262626" >3</text>
<text x="413.60" y="650.60" font-size="12.5" text-anchor="middle" fill="#262626" >300</text>
<text x="468.34" y="650.60" font-size="12.5" text-anchor="middle" fill="#262626" >310</text>
<text x="523.08" y="650.60" font-size="12.5" text-anchor="middle" fill="#262626" >320</text>
<text x="577.82" y="650.60" font-size="12.5" text-anchor="middle" fill="#262626" >330</text>
<text x="599.40" y="505.00" font-size="12.5" text-anchor="end" fill="#262626" >(d)</text>
<text transform="translate(387.50,557.10) rotate(-90)" x="0" y="0" font-size="13.5" text-anchor="middle" fill="#262626" textLength="88.8" lengthAdjust="spacingAndGlyphs">Volume (km<tspan font-size="10.5" dy="-8">3</tspan><tspan dy="8">)</tspan></text>
<text x="509.60" y="670.40" font-size="13.5" text-anchor="middle" fill="#262626" textLength="93.6" lengthAdjust="spacingAndGlyphs">Water level (m)</text>
<rect x="419.30" y="493.30" width="100.10" height="32.00" fill="#ffffff" stroke="#a8a8a8" stroke-width="0.9"/>
<line x1="421.70" y1="501.30" x2="443.70" y2="501.30" stroke="#1a1a1a" stroke-width="2.3" />
<line x1="421.70" y1="516.40" x2="443.70" y2="516.40" stroke="#e8409c" stroke-width="1.0" stroke-opacity="0.45"/>
<text x="446.60" y="504.70" font-size="10.4" text-anchor="start" fill="#262626" textLength="29.5" lengthAdjust="spacingAndGlyphs">In situ</text>
<text x="446.60" y="520.00" font-size="10.4" text-anchor="start" fill="#262626" textLength="69.3" lengthAdjust="spacingAndGlyphs">Satellite fitted</text>
<polyline points="684.09,625.27 685.46,624.48 686.83,623.69 688.20,622.89 689.57,622.08 690.94,621.27 692.31,620.45 693.68,619.62 695.05,618.79 696.42,617.96 697.79,617.12 699.15,616.27 700.52,615.42 701.89,614.56 703.26,613.70 704.63,612.83 706.00,611.95 707.37,611.07 708.74,610.18 710.11,609.29 711.48,608.39 712.85,607.49 714.22,606.58 715.59,605.66 716.96,604.74 718.33,603.82 719.70,602.88 721.07,601.95 722.44,601.00 723.81,600.05 725.18,599.10 726.54,598.14 727.91,597.17 729.28,596.20 730.65,595.22 732.02,594.24 733.39,593.25 734.76,592.26 736.13,591.26 737.50,590.25 738.87,589.24 740.24,588.22 741.61,587.20 742.98,586.17 744.35,585.14 745.72,584.10 747.09,583.05 748.46,582.00 749.83,580.94 751.20,579.88 752.57,578.81 753.93,577.74 755.30,576.66 756.67,575.57 758.04,574.48 759.41,573.39 760.78,572.29 762.15,571.18 763.52,570.06 764.89,568.94 766.26,567.82 767.63,566.69 769.00,565.55 770.37,564.41 771.74,563.26 773.11,562.11 774.48,560.95 775.85,559.79 777.22,558.62 778.59,557.44 779.96,556.26 781.32,555.07 782.69,553.88 784.06,552.68 785.43,551.47 786.80,550.26 788.17,549.05 789.54,547.83 790.91,546.60 792.28,545.37 793.65,544.13 795.02,542.88 796.39,541.63 797.76,540.38 799.13,539.12 800.50,537.85 801.87,536.58 803.24,535.30 804.61,534.02 805.98,532.73 807.35,531.43 808.71,530.13 810.08,528.82 811.45,527.51 812.82,526.19 814.19,524.87 815.56,523.54 816.93,522.21 818.30,520.87 819.67,519.52 821.04,518.17" fill="none" stroke="#1a1a1a" stroke-width="1.7" stroke-linejoin="round" />
<polyline points="689.57,619.48 690.88,618.53 692.20,617.57 693.51,616.61 694.83,615.65 696.14,614.69 697.46,613.73 698.77,612.77 700.09,611.80 701.40,610.84 702.72,609.88 704.03,608.91 705.34,607.94 706.66,606.98 707.97,606.01 709.29,605.04 710.60,604.07 711.92,603.10 713.23,602.13 714.55,601.16 715.86,600.19 717.18,599.22 718.49,598.24 719.81,597.27 721.12,596.29 722.44,595.32 723.75,594.34 725.07,593.36 726.38,592.39 727.69,591.41 729.01,590.43 730.32,589.45 731.64,588.47 732.95,587.48 734.27,586.50 735.58,585.52 736.90,584.53 738.21,583.55 739.53,582.56 740.84,581.58 742.16,580.59 743.47,579.60 744.79,578.61 746.10,577.62 747.42,576.63 748.73,575.64 750.05,574.65 751.36,573.66 752.67,572.66 753.99,571.67 755.30,570.67 756.62,569.68 757.93,568.68 759.25,567.68 760.56,566.68 761.88,565.69 763.19,564.69 764.51,563.69 765.82,562.68 767.14,561.68 768.45,560.68 769.77,559.68 771.08,558.67 772.40,557.67 773.71,556.66 775.02,555.65 776.34,554.65 777.65,553.64 778.97,552.63 780.28,551.62 781.60,550.61 782.91,549.60 784.23,548.59 785.54,547.57 786.86,546.56 788.17,545.54 789.49,544.53 790.80,543.51 792.12,542.50 793.43,541.48 794.75,540.46 796.06,539.44 797.38,538.42 798.69,537.40 800.00,536.38 801.32,535.36 802.63,534.34 803.95,533.31 805.26,532.29 806.58,531.26 807.89,530.24 809.21,529.21 810.52,528.18 811.84,527.16 813.15,526.13 814.47,525.10 815.78,524.07 817.10,523.03 818.41,522.00 819.73,520.97 821.04,519.94" fill="none" stroke="#ea1c9c" stroke-width="2.4" stroke-linejoin="round" />
<rect x="656.70" y="488.80" width="191.70" height="144.80" fill="none" stroke="#2b2b2b" stroke-width="1.2"/>
<line x1="711.48" y1="633.60" x2="711.48" y2="630.40" stroke="#2b2b2b" stroke-width="1.0" />
<line x1="711.48" y1="488.80" x2="711.48" y2="492.00" stroke="#2b2b2b" stroke-width="1.0" />
<line x1="766.26" y1="633.60" x2="766.26" y2="630.40" stroke="#2b2b2b" stroke-width="1.0" />
<line x1="766.26" y1="488.80" x2="766.26" y2="492.00" stroke="#2b2b2b" stroke-width="1.0" />
<line x1="821.04" y1="633.60" x2="821.04" y2="630.40" stroke="#2b2b2b" stroke-width="1.0" />
<line x1="821.04" y1="488.80" x2="821.04" y2="492.00" stroke="#2b2b2b" stroke-width="1.0" />
<line x1="656.70" y1="525.00" x2="659.90" y2="525.00" stroke="#2b2b2b" stroke-width="1.0" />
<line x1="656.70" y1="561.20" x2="659.90" y2="561.20" stroke="#2b2b2b" stroke-width="1.0" />
<line x1="656.70" y1="597.40" x2="659.90" y2="597.40" stroke="#2b2b2b" stroke-width="1.0" />
<text x="651.50" y="492.50" font-size="12.5" text-anchor="end" fill="#262626" >1</text>
<text x="651.50" y="528.70" font-size="12.5" text-anchor="end" fill="#262626" >0.5</text>
<text x="651.50" y="564.90" font-size="12.5" text-anchor="end" fill="#262626" >0</text>
<text x="651.50" y="601.10" font-size="12.5" text-anchor="end" fill="#262626" >−0.5</text>
<text x="651.50" y="637.30" font-size="12.5" text-anchor="end" fill="#262626" >−1</text>
<text x="656.70" y="650.60" font-size="12.5" text-anchor="middle" fill="#262626" >300</text>
<text x="711.48" y="650.60" font-size="12.5" text-anchor="middle" fill="#262626" >310</text>
<text x="766.26" y="650.60" font-size="12.5" text-anchor="middle" fill="#262626" >320</text>
<text x="821.04" y="650.60" font-size="12.5" text-anchor="middle" fill="#262626" >330</text>
<text x="664.30" y="505.00" font-size="12.5" text-anchor="start" fill="#262626" >(e)</text>
<text transform="translate(629.30,561.10) rotate(-90)" x="0" y="0" font-size="13.5" text-anchor="middle" fill="#262626" textLength="142.5" lengthAdjust="spacingAndGlyphs">Volume anomaly (km<tspan font-size="10.5" dy="-8">3</tspan><tspan dy="8">)</tspan></text>
<text x="752.80" y="670.10" font-size="13.5" text-anchor="middle" fill="#262626" textLength="94.6" lengthAdjust="spacingAndGlyphs">Water level (m)</text>
<rect x="743.20" y="597.60" width="100.60" height="32.40" fill="#ffffff" stroke="#a8a8a8" stroke-width="0.9"/>
<line x1="746.10" y1="606.30" x2="768.10" y2="606.30" stroke="#1a1a1a" stroke-width="1.4" />
<line x1="746.10" y1="621.60" x2="768.10" y2="621.60" stroke="#e6189a" stroke-width="2.0" />
<text x="770.60" y="609.40" font-size="10.4" text-anchor="start" fill="#262626" textLength="29.5" lengthAdjust="spacingAndGlyphs">In situ</text>
<text x="770.60" y="624.60" font-size="10.4" text-anchor="start" fill="#262626" textLength="69.7" lengthAdjust="spacingAndGlyphs">Satellite fitted</text>
</svg>
</body></html>
